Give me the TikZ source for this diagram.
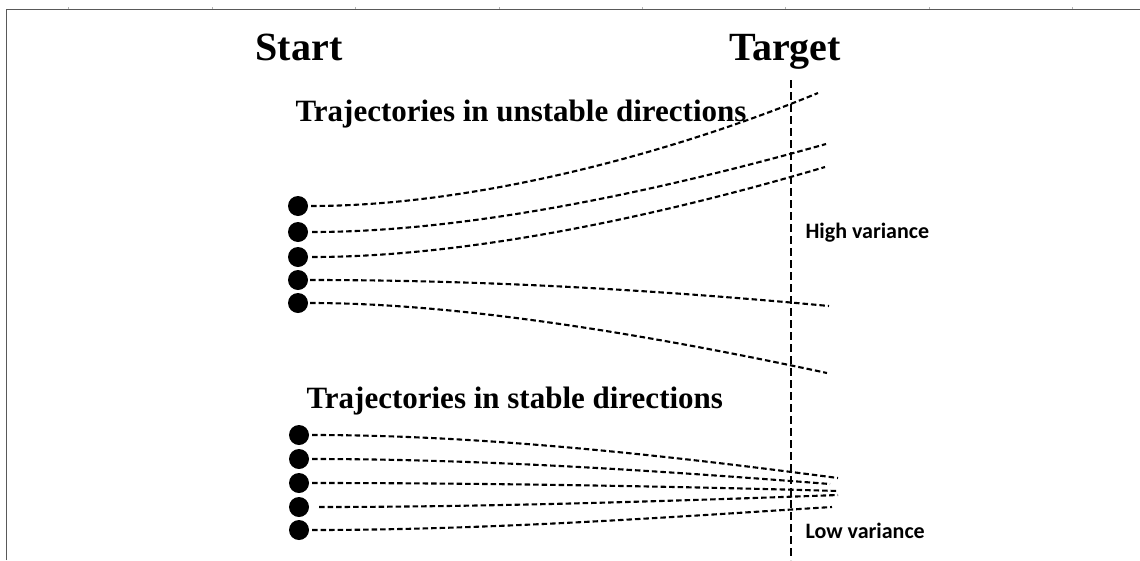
\documentclass[tikz,border=0pt]{standalone}
\usepackage{fontspec}
\setmainfont{Liberation Serif}
\newfontfamily\calfont{Carlito}
\begin{document}
\begin{tikzpicture}
[x=1pt,y=-1pt,
  dotdecorate/.style={shape=circle,fill=black,inner sep=0pt,minimum size=20pt},%
  trajdecorate/.style={line width=2.1pt,dash pattern=on 5.5pt off 3pt},%
  targetdecorate/.style={line width=2.8pt,dash pattern=on 8pt off 4pt},%
  headdecorate/.style={font=\fontsize{40}{48}\selectfont\bfseries,anchor=base},%
  titledecorate/.style={font=\fontsize{31}{37}\selectfont\bfseries,anchor=base west},%
  notedecorate/.style={font=\calfont\fontsize{22}{26}\selectfont\bfseries,anchor=base west}]
\useasboundingbox (0,0) rectangle (1140,560);
% frame
\draw[gray!70!black,line width=1pt] (6,560) -- (6,9) -- (1140,9);
\foreach \t in {68,212,355,499,642,785,929,1072}
  \draw[gray!60,line width=0.6pt] (\t,7) -- (\t,9);
% labels
\node (start) at (299,60) [headdecorate] {Start};
\node (target) at (785,60) [headdecorate] {Target};
\node (unstable) at (292,121) [titledecorate] {Trajectories in unstable directions};
\node (stable) at (303,408) [titledecorate] {Trajectories in stable directions};
\node (high) at (802,238) [notedecorate] {High variance};
\node (low) at (802,538) [notedecorate] {Low variance};
% target line
\coordinate (ttop) at (791,80);
\coordinate (tbot) at (791,560);
\draw[targetdecorate] (ttop) -- (tbot);
% nodes or start points
\node (u1) at (298,206) [dotdecorate] {};
\node (u2) at (298,232) [dotdecorate] {};
\node (u3) at (298,257) [dotdecorate] {};
\node (u4) at (298,280) [dotdecorate] {};
\node (u5) at (298,303) [dotdecorate] {};
\node (s1) at (299,435) [dotdecorate] {};
\node (s2) at (299,459) [dotdecorate] {};
\node (s3) at (299,483) [dotdecorate] {};
\node (s4) at (299,507) [dotdecorate] {};
\node (s5) at (299,530) [dotdecorate] {};
% end points
\coordinate (ue1) at (818,93);
\coordinate (ue2) at (826,144);
\coordinate (ue3) at (825,167);
\coordinate (ue4) at (829,306);
\coordinate (ue5) at (827,373);
\coordinate (se1) at (838,478);
\coordinate (se2) at (830,484);
\coordinate (se3) at (838,491);
\coordinate (se4) at (838,495);
\coordinate (se5) at (832,507);
% trajectories
\draw[trajdecorate] ([xshift=3pt]u1.east) .. controls (480,206) and (680,150) .. (ue1);
\draw[trajdecorate] ([xshift=4pt]u2.east) .. controls (480,232) and (680,185) .. (ue2);
\draw[trajdecorate] ([xshift=4pt]u3.east) .. controls (480,257) and (680,210) .. (ue3);
\draw[trajdecorate] ([xshift=2pt]u4.east) .. controls (500,280) and (680,292) .. (ue4);
\draw[trajdecorate] ([xshift=2pt]u5.east) .. controls (460,303) and (650,335) .. (ue5);
\draw[trajdecorate] ([xshift=3pt]s1.east) .. controls (500,435) and (700,460) .. (se1);
\draw[trajdecorate] ([xshift=3pt]s2.east) .. controls (500,459) and (700,474) .. (se2);
\draw[trajdecorate] ([xshift=3pt]s3.east) .. controls (500,483) and (700,487) .. (se3);
\draw[trajdecorate] ([xshift=10pt]s4.east) .. controls (500,507) and (700,500) .. (se4);
\draw[trajdecorate] ([xshift=3pt]s5.east) .. controls (500,530) and (700,515) .. (se5);
\end{tikzpicture}
\end{document}
